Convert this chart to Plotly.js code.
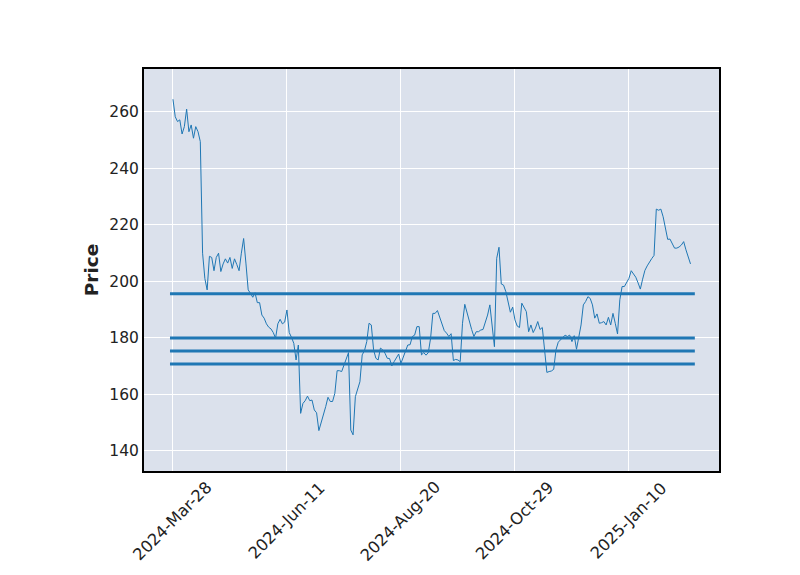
<!DOCTYPE html>
<html>
<head>
<meta charset="utf-8">
<script src="https://cdn.plot.ly/plotly-3.0.1.min.js"></script>
<style>html,body{margin:0;padding:0;background:#fff;}#chart{width:800px;height:575px;}</style>
</head>
<body>
<div id="chart"></div>
<script>
// Closing prices, one per trading day starting 2024-03-28
const prices = [
  264.5, 258.3, 256.6, 257.2, 252.2, 254.8, 261.0, 253.0, 255.4, 250.7,
  254.8, 253.0, 249.5, 210.0, 201.0, 197.0, 208.9, 208.5, 203.8, 208.5,
  210.0, 203.5, 206.2, 208.0, 206.5, 208.5, 204.6, 208.0, 206.0, 203.8,
  210.0, 215.2, 206.5, 197.0, 195.8, 194.4, 196.0, 192.5, 192.5, 188.1,
  187.0, 185.0, 183.8, 183.2, 181.9, 179.9, 185.0, 186.6, 185.0, 185.6,
  189.9, 181.9, 180.2, 178.1, 172.2, 177.5, 153.3, 156.8, 157.8, 159.4,
  157.8, 158.0, 154.5, 153.5, 147.2, 149.8, 152.7, 155.7, 159.0, 157.5,
  157.5, 160.4, 168.4, 168.4, 168.1, 170.4, 173.0, 174.8, 147.4, 145.7,
  159.2, 161.6, 164.5, 174.0, 175.5, 178.7, 185.2, 184.6, 175.8, 172.8,
  172.2, 176.4, 175.8, 174.6, 172.8, 172.7, 170.1, 171.6, 173.0, 174.3,
  171.0, 173.4, 175.8, 177.5, 177.6, 180.5, 181.0, 184.0, 184.0, 174.0,
  174.8, 173.9, 174.8, 179.9, 188.7, 188.7, 189.7, 187.3, 184.6, 182.6,
  181.7, 180.5, 181.5, 172.0, 172.4, 172.2, 171.6, 185.2, 191.9, 188.7,
  185.2, 183.0, 180.5, 182.2, 182.2, 182.8, 183.0, 185.2, 188.1, 191.7,
  184.6, 176.9, 208.2, 212.1, 199.1, 198.7, 196.4, 192.9, 189.1, 190.9,
  186.4, 184.2, 183.7, 192.3, 190.5, 189.3, 182.2, 184.6, 181.9, 183.5,
  185.8, 183.0, 183.7, 175.8, 167.8, 168.1, 168.3, 168.9, 175.8, 178.5,
  179.3, 179.9, 181.0, 180.5, 181.0, 178.7, 180.8, 176.0, 179.9, 184.6,
  191.7, 192.9, 194.6, 194.0, 191.7, 187.0, 188.5, 185.2, 185.4, 185.8,
  184.6, 187.3, 184.6, 188.7, 185.2, 181.4, 193.5, 198.2, 198.2, 199.6,
  201.1, 203.8, 202.5, 201.5, 199.5, 197.3, 200.8, 203.9, 205.5, 207.0,
  208.1, 209.2, 225.6, 225.2, 225.6, 222.9, 218.8, 214.9, 215.0, 213.3,
  211.8, 211.8, 212.2, 212.9, 214.1, 211.2, 208.8, 206.2
];
// Horizontal price levels
const levels = [195.6, 180.0, 175.4, 170.8];
// X tick labels (every 50 trading days)
const tickIndex = [0, 50, 100, 150, 200];
const tickLabels = ['2024-Mar-28', '2024-Jun-11', '2024-Aug-20', '2024-Oct-29', '2025-Jan-10'];

const idx = prices.map((_, i) => i);
const traces = [{
  x: idx, y: prices, type: 'scatter', mode: 'lines',
  line: {color: '#1f77b4', width: 1}, hoverinfo: 'x+y', showlegend: false
}];
const n = prices.length;
levels.forEach(v => {
  traces.push({
    x: [-1.3, n + 0.9], y: [v, v], type: 'scatter', mode: 'lines',
    line: {color: '#1f77b4', width: 3}, showlegend: false
  });
});

const font = {family: 'DejaVu Sans', size: 15.5, color: '#222'};
const xfont = {family: 'DejaVu Sans', size: 16.2, color: '#222'};
// rotated tick labels centred on their tick (matplotlib style)
const annotations = tickIndex.map((t, k) => ({
  x: t, xref: 'x', y: -0.124, yref: 'paper',
  text: tickLabels[k], textangle: -45, showarrow: false,
  xanchor: 'center', yanchor: 'middle', font: xfont
}));

const layout = {
  width: 800, height: 575,
  margin: {l: 144, r: 81, t: 69, b: 104, pad: 0},
  paper_bgcolor: '#ffffff',
  plot_bgcolor: '#DBE1EC',
  font: font,
  showlegend: false,
  annotations: annotations,
  xaxis: {
    range: [-12.7, 239.5],
    tickmode: 'array', tickvals: tickIndex, showticklabels: false,
    showgrid: true, gridcolor: '#ffffff', gridwidth: 1,
    zeroline: false, showline: true, mirror: true, linecolor: '#000', linewidth: 2,
    ticks: ''
  },
  yaxis: {
    range: [132.9, 275.2],
    tickvals: [140, 160, 180, 200, 220, 240, 260],
    tickfont: font,
    showgrid: true, gridcolor: '#ffffff', gridwidth: 1,
    zeroline: false, showline: true, mirror: true, linecolor: '#000', linewidth: 2,
    ticks: '',
    title: {text: '<b>Price</b>', font: {family: 'DejaVu Sans', size: 18.5, color: '#222'}, standoff: 6}
  }
};
Plotly.newPlot('chart', traces, layout, {displayModeBar: false, staticPlot: true});
</script>
</body>
</html>
